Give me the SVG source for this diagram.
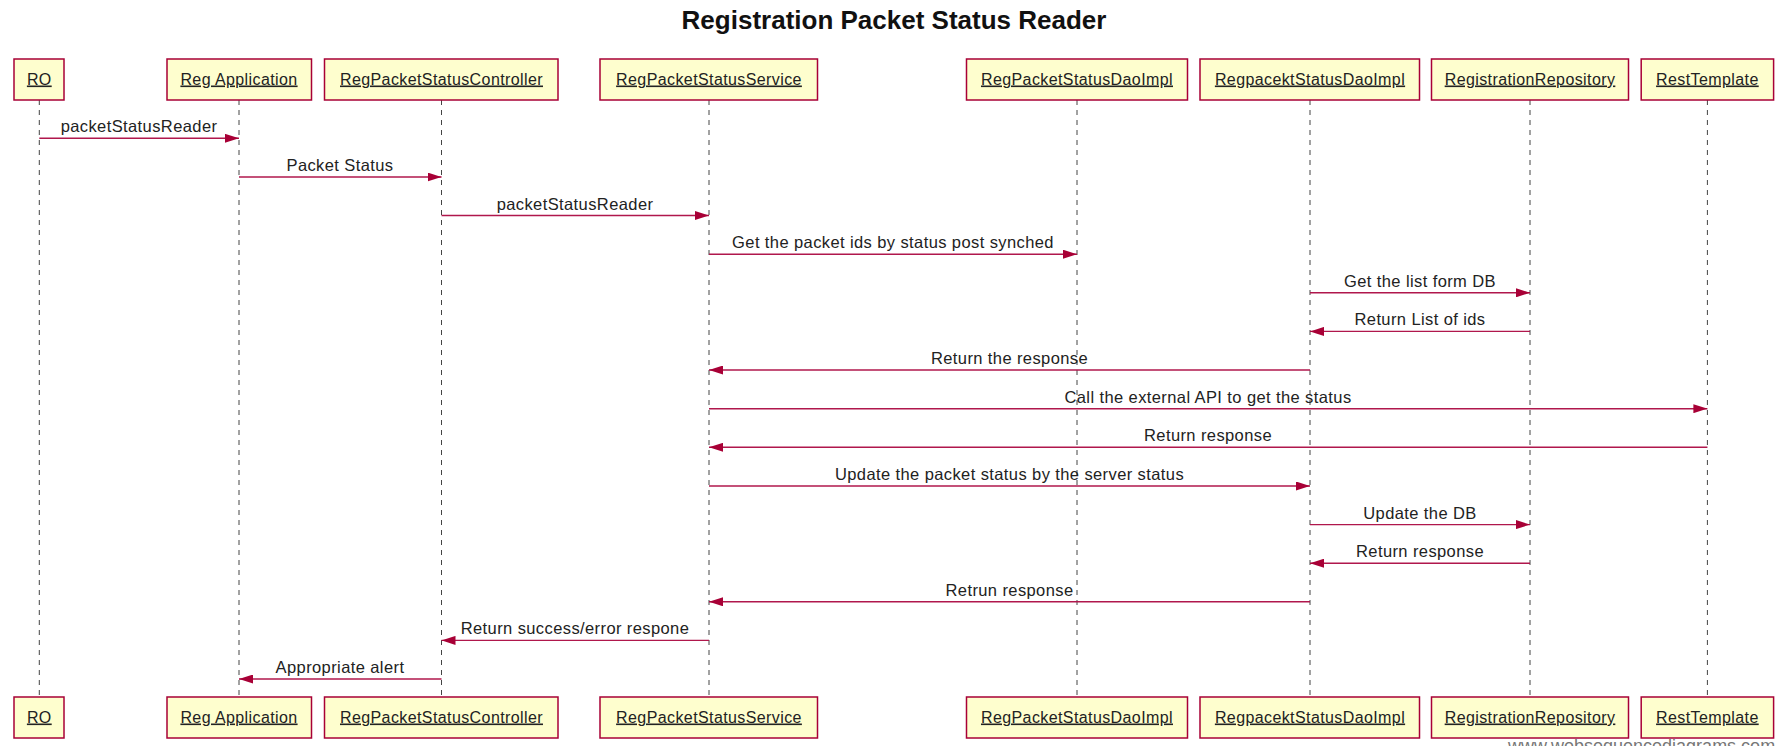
<svg xmlns="http://www.w3.org/2000/svg" width="1782" height="746" viewBox="0 0 1782 746">
<style>
.title{font-family:"Liberation Sans",Arial,sans-serif;font-weight:bold;font-size:26px;fill:#111;text-anchor:middle}
.box{fill:#FEFECE;stroke:#A80036;stroke-width:1.5}
.plabel{font-family:"Liberation Sans",Arial,sans-serif;font-size:16px;letter-spacing:0.4px;fill:#222;text-anchor:middle;text-decoration:underline}
.life{stroke:#444;stroke-width:1;stroke-dasharray:5,5;fill:none}
.msg{stroke:#B0174C;stroke-width:1.4;fill:none;marker-end:url(#ah)}
.mlabel{font-family:"Liberation Sans",Arial,sans-serif;font-size:16.5px;letter-spacing:0.4px;fill:#222;text-anchor:middle}
.wm{font-family:"Liberation Sans",Arial,sans-serif;font-size:18px;fill:#777}
</style>
<defs>
<marker id="ah" viewBox="0 0 14 9" refX="14" refY="4.5" markerWidth="14" markerHeight="9" markerUnits="userSpaceOnUse" orient="auto">
<path d="M0,0 L14,4.5 L0,9 Z" fill="#A80036"/>
</marker>
</defs>
<rect width="1782" height="746" fill="#fff"/>
<text class="title" x="894" y="29">Registration Packet Status Reader</text>

<g id="lifelines">
<line class="life" x1="39.3" y1="100" x2="39.3" y2="697"/>
<line class="life" x1="239" y1="100" x2="239" y2="697"/>
<line class="life" x1="441.5" y1="100" x2="441.5" y2="697"/>
<line class="life" x1="709" y1="100" x2="709" y2="697"/>
<line class="life" x1="1077" y1="100" x2="1077" y2="697"/>
<line class="life" x1="1310" y1="100" x2="1310" y2="697"/>
<line class="life" x1="1530" y1="100" x2="1530" y2="697"/>
<line class="life" x1="1707.4" y1="100" x2="1707.4" y2="697"/>
</g>

<g id="p-RO">
<rect class="box" x="14" y="59" width="50" height="41"/><text class="plabel" x="39.3" y="84.5">RO</text>
<rect class="box" x="14" y="697" width="50" height="41"/><text class="plabel" x="39.3" y="722.5">RO</text>
</g>
<g id="p-RegApplication">
<rect class="box" x="167" y="59" width="144.5" height="41"/><text class="plabel" x="239" y="84.5">Reg Application</text>
<rect class="box" x="167" y="697" width="144.5" height="41"/><text class="plabel" x="239" y="722.5">Reg Application</text>
</g>
<g id="p-RegPacketStatusController">
<rect class="box" x="324.5" y="59" width="233.5" height="41"/><text class="plabel" x="441.5" y="84.5">RegPacketStatusController</text>
<rect class="box" x="324.5" y="697" width="233.5" height="41"/><text class="plabel" x="441.5" y="722.5">RegPacketStatusController</text>
</g>
<g id="p-RegPacketStatusService">
<rect class="box" x="600" y="59" width="217.5" height="41"/><text class="plabel" x="709" y="84.5">RegPacketStatusService</text>
<rect class="box" x="600" y="697" width="217.5" height="41"/><text class="plabel" x="709" y="722.5">RegPacketStatusService</text>
</g>
<g id="p-RegPacketStatusDaoImpl">
<rect class="box" x="966.5" y="59" width="221" height="41"/><text class="plabel" x="1077" y="84.5">RegPacketStatusDaoImpl</text>
<rect class="box" x="966.5" y="697" width="221" height="41"/><text class="plabel" x="1077" y="722.5">RegPacketStatusDaoImpl</text>
</g>
<g id="p-RegpacektStatusDaoImpl">
<rect class="box" x="1200" y="59" width="219.5" height="41"/><text class="plabel" x="1310" y="84.5">RegpacektStatusDaoImpl</text>
<rect class="box" x="1200" y="697" width="219.5" height="41"/><text class="plabel" x="1310" y="722.5">RegpacektStatusDaoImpl</text>
</g>
<g id="p-RegistrationRepository">
<rect class="box" x="1431.5" y="59" width="197" height="41"/><text class="plabel" x="1530" y="84.5">RegistrationRepository</text>
<rect class="box" x="1431.5" y="697" width="197" height="41"/><text class="plabel" x="1530" y="722.5">RegistrationRepository</text>
</g>
<g id="p-RestTemplate">
<rect class="box" x="1641.2" y="59" width="132.4" height="41"/><text class="plabel" x="1707.4" y="84.5">RestTemplate</text>
<rect class="box" x="1641.2" y="697" width="132.4" height="41"/><text class="plabel" x="1707.4" y="722.5">RestTemplate</text>
</g>

<g id="connectors">
<line class="msg" x1="39.3" y1="138.3" x2="239" y2="138.3"/>
<text class="mlabel" x="139" y="132.3">packetStatusReader</text>
<line class="msg" x1="239" y1="177" x2="441.5" y2="177"/>
<text class="mlabel" x="340" y="171">Packet Status</text>
<line class="msg" x1="441.5" y1="215.5" x2="709" y2="215.5"/>
<text class="mlabel" x="575" y="209.5">packetStatusReader</text>
<line class="msg" x1="709" y1="254.2" x2="1077" y2="254.2"/>
<text class="mlabel" x="893" y="248.2">Get the packet ids by status post synched</text>
<line class="msg" x1="1310" y1="292.8" x2="1530" y2="292.8"/>
<text class="mlabel" x="1420" y="286.8">Get the list form DB</text>
<line class="msg" x1="1530" y1="331.4" x2="1310" y2="331.4"/>
<text class="mlabel" x="1420" y="325.4">Return List of ids</text>
<line class="msg" x1="1310" y1="370" x2="709" y2="370"/>
<text class="mlabel" x="1009.5" y="364">Return the response</text>
<line class="msg" x1="709" y1="408.7" x2="1707.4" y2="408.7"/>
<text class="mlabel" x="1208" y="402.7">Call the external API to get the status</text>
<line class="msg" x1="1707.4" y1="447.3" x2="709" y2="447.3"/>
<text class="mlabel" x="1208" y="441.3">Return response</text>
<line class="msg" x1="709" y1="486" x2="1310" y2="486"/>
<text class="mlabel" x="1009.5" y="480">Update the packet status by the server status</text>
<line class="msg" x1="1310" y1="524.6" x2="1530" y2="524.6"/>
<text class="mlabel" x="1420" y="518.6">Update the DB</text>
<line class="msg" x1="1530" y1="563.2" x2="1310" y2="563.2"/>
<text class="mlabel" x="1420" y="557.2">Return response</text>
<line class="msg" x1="1310" y1="601.8" x2="709" y2="601.8"/>
<text class="mlabel" x="1009.5" y="595.8">Retrun response</text>
<line class="msg" x1="709" y1="640.4" x2="441.5" y2="640.4"/>
<text class="mlabel" x="575" y="634.4">Return success/error respone</text>
<line class="msg" x1="441.5" y1="679" x2="239" y2="679"/>
<text class="mlabel" x="340" y="673">Appropriate alert</text>
</g>

<text class="wm" x="1508" y="752">www.websequencediagrams.com</text>
</svg>
